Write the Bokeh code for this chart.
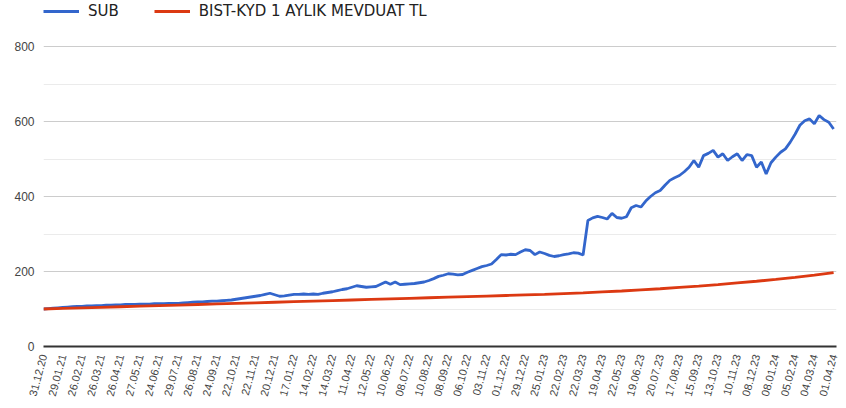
import numpy as np
from bokeh.plotting import figure
from bokeh.models import Range1d, FixedTicker, Legend, LegendItem
from bokeh.embed import file_html
from bokeh.resources import INLINE

date_labels = ["31.12.20", "29.01.21", "26.02.21", "26.03.21", "26.04.21", "27.05.21",
               "24.06.21", "29.07.21", "26.08.21", "24.09.21", "22.10.21", "22.11.21",
               "20.12.21", "17.01.22", "14.02.22", "14.03.22", "11.04.22", "12.05.22",
               "10.06.22", "08.07.22", "10.08.22", "08.09.22", "06.10.22", "03.11.22",
               "01.12.22", "29.12.22", "25.01.23", "22.02.23", "22.03.23", "19.04.23",
               "22.05.23", "19.06.23", "20.07.23", "17.08.23", "15.09.23", "13.10.23",
               "10.11.23", "08.12.23", "08.01.24", "05.02.24", "04.03.24", "01.04.24"]

# SUB fund index, ~weekly readings (4 per label interval)
sub_values = [
    100, 101, 102, 103, 104, 105, 106, 107, 107, 108,
    108, 109, 109, 110, 110, 111, 111, 112, 112, 112,
    113, 113, 113, 114, 114, 114, 115, 115, 115, 116,
    117, 118, 119, 119, 120, 121, 121, 122, 123, 124,
    126, 128, 130, 132, 134, 136, 139, 142, 138, 134,
    135, 137, 139, 139, 140, 139, 140, 139, 142, 144,
    146, 149, 152, 154, 158, 162, 160, 158, 159, 160,
    166, 172, 166, 172, 165, 166, 167, 168, 170, 172,
    176, 181, 187, 190, 194, 193, 191, 192, 198, 203,
    208, 213, 216, 220, 232, 245, 244, 246, 245, 252,
    258, 256, 245, 252, 248, 243, 240, 242, 245, 247,
    250, 249, 244, 336, 343, 347, 344, 340, 355, 344,
    342, 346, 370, 376, 372, 388, 400, 410, 416, 430,
    443, 450, 456, 466, 478, 496, 478, 509, 515, 523,
    505, 514, 496, 506, 514, 496, 512, 509, 478, 492,
    460, 490, 505, 518, 527, 545, 566, 590, 602, 607,
    594, 616, 605, 598, 580]

# BIST-KYD 1 month deposit TL index, at each label date
deposit_values = [
    100, 101.5, 103, 104.5, 106, 107.5, 109, 110.5, 112, 113.5,
    115, 116.5, 118, 119.5, 121, 122.5, 124, 125.5, 127, 128.5,
    130, 131.5, 133, 134.5, 136, 137.5, 139, 141, 143, 145.5,
    148, 151, 154, 157.5, 161, 165, 169.5, 174, 179, 184.5,
    190.5, 197]

y_ticks = [0, 200, 400, 600, 800]
y_minor = [100, 300, 500, 700]

STEP = 4
sub_x = np.arange(len(sub_values))
dep_x = np.arange(len(deposit_values)) * STEP
tick_pos = [i * STEP for i in range(len(date_labels))]

FONT = "Liberation Sans"

p = figure(width=838, height=400, output_backend="svg", toolbar_location=None,
           x_range=Range1d(0, 164.6), y_range=Range1d(0, 922.7))
p.min_border_left = 43
p.min_border_right = 2
p.min_border_top = 0
p.min_border_bottom = 54
p.outline_line_color = None

r1 = p.line(sub_x, sub_values, line_color="#3366cc", line_width=2.8)
r2 = p.line(dep_x, deposit_values, line_color="#dc3912", line_width=2.8)

p.xgrid.grid_line_color = None
p.yaxis.ticker = FixedTicker(ticks=y_ticks, minor_ticks=y_minor)
p.ygrid.grid_line_color = "#cccccc"
p.ygrid.minor_grid_line_color = "#ebebeb"

p.yaxis.axis_line_color = None
p.yaxis.major_tick_line_color = None
p.yaxis.minor_tick_line_color = None
p.yaxis.major_tick_out = 0
p.yaxis.major_tick_in = 0
p.yaxis.minor_tick_out = 0
p.yaxis.major_label_standoff = 9
p.yaxis.major_label_text_font = FONT
p.yaxis.major_label_text_font_size = "12px"
p.yaxis.major_label_text_color = "#444444"

p.xaxis.ticker = FixedTicker(ticks=tick_pos)
p.xaxis.major_label_overrides = {pos: lab for pos, lab in zip(tick_pos, date_labels)}
p.xaxis.major_label_orientation = 1.31
p.xaxis.axis_line_color = "#333333"
p.xaxis.axis_line_width = 2
p.xaxis.major_tick_line_color = None
p.xaxis.minor_tick_line_color = None
p.xaxis.major_tick_out = 0
p.xaxis.major_tick_in = 0
p.xaxis.minor_tick_out = 0
p.xaxis.major_label_standoff = 8
p.xaxis.major_label_text_font = FONT
p.xaxis.major_label_text_font_size = "11px"
p.xaxis.major_label_text_color = "#444444"

legend = Legend(items=[LegendItem(label="SUB", renderers=[r1]),
                       LegendItem(label="BIST-KYD 1 AYLIK MEVDUAT TL", renderers=[r2])],
                orientation="horizontal", location=(0, 326))
legend.label_text_font = "DejaVu Sans"
legend.label_text_font_size = "15px"
legend.label_text_color = "#222222"
legend.glyph_width = 36
legend.glyph_height = 16
legend.label_height = 16
legend.label_standoff = 9
legend.spacing = 35
legend.padding = 0
legend.margin = 0
legend.border_line_color = None
legend.background_fill_alpha = 0
p.add_layout(legend, "center")

open("out.html", "w").write(file_html(p, INLINE))
